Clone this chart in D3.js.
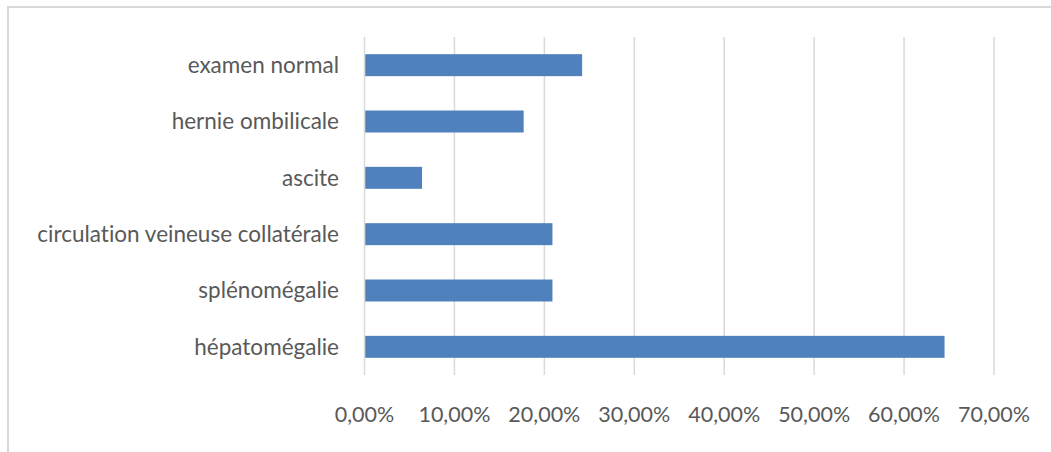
<!DOCTYPE html>
<html>
<head>
<meta charset="utf-8">
<script src="https://cdn.jsdelivr.net/npm/d3@7"></script>
<style>
  html, body { margin: 0; padding: 0; background: #ffffff; }
  svg { display: block; }
  text { font-family: Lato, "Open Sans", sans-serif; fill: #595959; font-variant-ligatures: none; }
</style>
</head>
<body>
<svg id="chart" width="1051" height="452"></svg>
<script>
// Physical examination findings (share of patients)
const categories = [
  "examen normal",
  "hernie ombilicale",
  "ascite",
  "circulation veineuse collatérale",
  "splénomégalie",
  "hépatomégalie"
];
const values = [0.242, 0.177, 0.064, 0.209, 0.209, 0.645];
const tickValues = [0, 0.1, 0.2, 0.3, 0.4, 0.5, 0.6, 0.7];

const svg = d3.select("#chart");

const fr = d3.formatLocale({ decimal: ",", thousands: " ", grouping: [3], currency: ["", " €"] });
const pct = fr.format(".2%");

// outer frame (runs past the right and bottom edges)
svg.append("rect")
  .attr("x", 8).attr("y", 7)
  .attr("width", 1200).attr("height", 600)
  .attr("fill", "none")
  .attr("stroke", "#d9d9d9")
  .attr("stroke-width", 2);

const x = d3.scaleLinear().domain([0, 0.7]).range([364.5, 994]);
const y = d3.scaleBand().domain(categories).range([37, 375]).paddingInner(0.61).paddingOuter(0.305);

// vertical gridlines
svg.append("g")
  .selectAll("line")
  .data(tickValues)
  .join("line")
  .attr("x1", d => x(d)).attr("x2", d => x(d))
  .attr("y1", 37).attr("y2", 375)
  .attr("stroke", "#d9d9d9")
  .attr("stroke-width", 1.5);

// bars
svg.append("g")
  .selectAll("rect")
  .data(categories)
  .join("rect")
  .attr("x", x(0) + 0.75)
  .attr("y", d => y(d))
  .attr("width", (d, i) => x(values[i]) - x(0) - 0.75)
  .attr("height", y.bandwidth())
  .attr("fill", "#4f81bd");

// category labels
svg.append("g")
  .selectAll("text")
  .data(categories)
  .join("text")
  .attr("x", 339)
  .attr("y", d => y(d) + y.bandwidth() / 2)
  .attr("dy", "0.35em")
  .attr("text-anchor", "end")
  .attr("font-size", 22.5)
  .text(d => d);

// x tick labels
svg.append("g")
  .selectAll("text")
  .data(tickValues)
  .join("text")
  .attr("x", d => x(d))
  .attr("y", 422)
  .attr("text-anchor", "middle")
  .attr("font-size", 21.5)
  .text(d => pct(d));
</script>
</body>
</html>
